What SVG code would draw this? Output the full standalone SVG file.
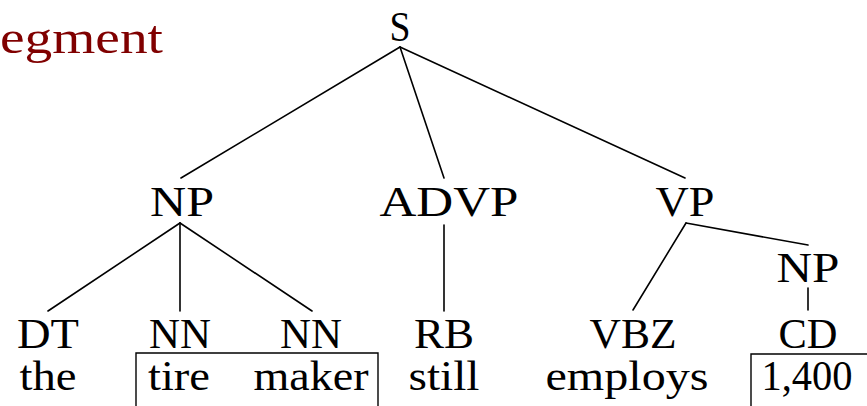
<svg xmlns="http://www.w3.org/2000/svg" width="867" height="406" viewBox="0 0 867 406">
  <style>
    .lbl { font-family: 'Liberation Serif', 'Times New Roman', Tinos, 'DejaVu Serif', 'Noto Serif', serif; font-size: 42px; fill: #000; text-anchor: middle; }
    .title { font-family: 'Liberation Serif', 'Times New Roman', Tinos, 'DejaVu Serif', 'Noto Serif', serif; font-size: 46px; fill: #800000; }
    .edge { stroke: #000; stroke-width: 1.6; fill: none; stroke-linecap: round; }
    .box { stroke: #000; stroke-width: 1.4; fill: none; }
  </style>
  <rect width="867" height="406" fill="#fff"/>

  <text class="title" x="0" y="53" textLength="163" lengthAdjust="spacingAndGlyphs">egment</text>

  <g id="connectors">
    <line class="edge" x1="400" y1="47" x2="181" y2="178"/>
    <line class="edge" x1="400" y1="47" x2="444" y2="178"/>
    <line class="edge" x1="400" y1="47" x2="685" y2="178"/>
    <line class="edge" x1="180" y1="223" x2="48" y2="311"/>
    <line class="edge" x1="180" y1="223" x2="180" y2="311"/>
    <line class="edge" x1="180" y1="223" x2="312" y2="311"/>
    <line class="edge" x1="444" y1="225" x2="444" y2="311"/>
    <line class="edge" x1="686" y1="223" x2="633" y2="310"/>
    <line class="edge" x1="686" y1="223" x2="808" y2="245"/>
    <line class="edge" x1="808" y1="288" x2="808" y2="310"/>
  </g>

  <g id="S"><text class="lbl" x="400" y="41" textLength="21" lengthAdjust="spacingAndGlyphs">S</text></g>
  <g id="NP"><text class="lbl" x="182" y="216" textLength="64" lengthAdjust="spacingAndGlyphs">NP</text></g>
  <g id="ADVP"><text class="lbl" x="449" y="216" textLength="139" lengthAdjust="spacingAndGlyphs">ADVP</text></g>
  <g id="VP"><text class="lbl" x="685" y="216" textLength="59" lengthAdjust="spacingAndGlyphs">VP</text></g>
  <g id="NP2"><text class="lbl" x="808" y="282" textLength="63" lengthAdjust="spacingAndGlyphs">NP</text></g>

  <g id="DT">
    <text class="lbl" x="48" y="348" textLength="62" lengthAdjust="spacingAndGlyphs">DT</text>
    <text class="lbl" x="48" y="390" textLength="57" lengthAdjust="spacingAndGlyphs">the</text>
  </g>
  <g id="NN1">
    <text class="lbl" x="180" y="348" textLength="62" lengthAdjust="spacingAndGlyphs">NN</text>
    <text class="lbl" x="179" y="390" textLength="62" lengthAdjust="spacingAndGlyphs">tire</text>
  </g>
  <g id="NN2">
    <text class="lbl" x="311" y="348" textLength="62" lengthAdjust="spacingAndGlyphs">NN</text>
    <text class="lbl" x="311" y="390" textLength="115" lengthAdjust="spacingAndGlyphs">maker</text>
  </g>
  <g id="RB">
    <text class="lbl" x="444" y="348" textLength="60" lengthAdjust="spacingAndGlyphs">RB</text>
    <text class="lbl" x="444" y="390" textLength="71" lengthAdjust="spacingAndGlyphs">still</text>
  </g>
  <g id="VBZ">
    <text class="lbl" x="633" y="348" textLength="87" lengthAdjust="spacingAndGlyphs">VBZ</text>
    <text class="lbl" x="627" y="390" textLength="163" lengthAdjust="spacingAndGlyphs">employs</text>
  </g>
  <g id="CD">
    <text class="lbl" x="808" y="348" textLength="59" lengthAdjust="spacingAndGlyphs">CD</text>
    <text class="lbl" x="807" y="390" textLength="91" lengthAdjust="spacingAndGlyphs">1,400</text>
  </g>

  <!-- open-bottomed brackets round the chunked words -->
  <polyline class="box" points="136,406 136,353 378,353 378,406"/>
  <polyline class="box" points="751,406 751,354 870,354"/>
</svg>
